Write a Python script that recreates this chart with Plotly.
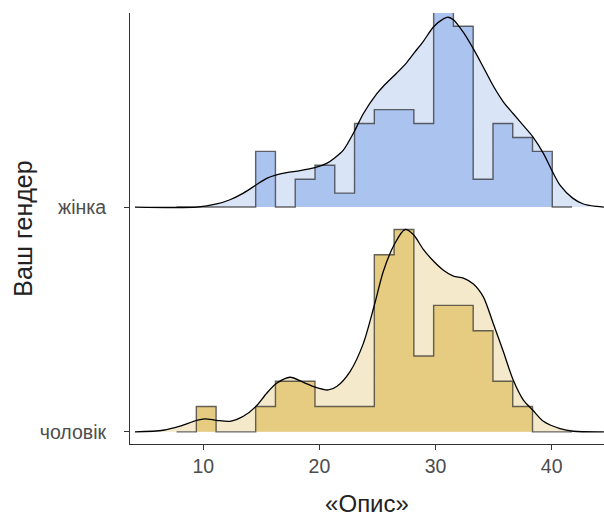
import plotly.graph_objects as go

# ---- data ----
categories = ["чоловік", "жінка"]
cat_pos = [1, 2]

bin_start = 7.70
bin_width = 1.703
counts_men = [0, 1, 0, 0, 1, 2, 2, 1, 1, 1, 7, 8, 3, 5, 5, 4, 2, 1, 0, 0]
counts_women = [0, 0, 0, 0, 4, 0, 2, 3, 1, 6, 7, 7, 6, 14, 13, 2, 6, 5, 4, 0]

dens_x_men = [4.12, 6.56, 7.99, 9.43, 10.15, 11.15, 12.30, 13.45, 14.54, 15.46, 16.32,
              17.47, 18.62, 19.62, 20.77, 21.49, 22.64, 23.78, 24.76, 25.51, 26.45,
              27.37, 28.09, 28.95, 29.84, 30.68, 31.54, 32.40, 33.29, 34.12, 34.98,
              35.84, 36.70, 37.57, 38.37, 39.29, 40.72, 41.87, 44.5]
dens_men = [0, 0.008, 0.028, 0.057, 0.064, 0.057, 0.052, 0.077, 0.126, 0.191, 0.240,
            0.270, 0.245, 0.221, 0.207, 0.224, 0.298, 0.436, 0.632, 0.794, 0.926,
            1.0, 0.975, 0.902, 0.843, 0.799, 0.770, 0.760, 0.730, 0.667, 0.534,
            0.397, 0.255, 0.157, 0.108, 0.052, 0.016, 0.003, 0]

dens_x_women = [4.12, 9.43, 11.15, 12.30, 13.45, 14.54, 15.46, 16.23, 17.18, 18.33, 19.62,
                20.63, 21.34, 22.06, 23.04, 23.78, 24.93, 25.51, 26.66, 27.52, 28.18,
                28.95, 29.84, 30.68, 31.10, 31.54, 32.40, 33.29, 34.12, 34.98, 35.84,
                36.70, 37.57, 38.37, 39.29, 40.06, 40.72, 41.81, 42.73, 43.88, 44.5]
dens_women = [0, 0, 0.015, 0.036, 0.069, 0.109, 0.142, 0.158, 0.170, 0.180, 0.195,
              0.216, 0.244, 0.281, 0.377, 0.461, 0.559, 0.597, 0.662, 0.714, 0.763,
              0.819, 0.891, 0.930, 0.938, 0.926, 0.863, 0.779, 0.691, 0.598, 0.520,
              0.461, 0.402, 0.348, 0.265, 0.176, 0.108, 0.044, 0.015, 0.003, 0]

x_ticks = [10, 20, 30, 40]

SCALE = 0.9
colors = {
    "чоловік": ("#f4eacb", "#e5cc80"),
    "жінка": ("#dae4f7", "#abc3ef"),
}

groups = [
    ("чоловік", 1, counts_men, dens_x_men, dens_men),
    ("жінка", 2, counts_women, dens_x_women, dens_women),
]

max_rel = max(max(c) / sum(c) for _, _, c, _, _ in groups)

fig = go.Figure()
for name, pos, counts, dx, dy in groups:
    light, dark = colors[name]
    n = sum(counts)
    # density fill
    fig.add_trace(go.Scatter(x=dx, y=[pos] * len(dx), mode="lines",
                             line=dict(width=0), hoverinfo="skip", showlegend=False))
    fig.add_trace(go.Scatter(x=dx, y=[pos + v * SCALE for v in dy], mode="lines",
                             line=dict(width=0, shape="spline", smoothing=0.8),
                             fill="tonexty", fillcolor=light,
                             hoverinfo="skip", showlegend=False))
    # histogram step path
    edges = [bin_start + i * bin_width for i in range(len(counts) + 1)]
    hx, hy = [edges[0]], [pos]
    for i, c in enumerate(counts):
        h = pos + (c / n) / max_rel * SCALE
        hx += [edges[i], edges[i + 1]]
        hy += [h, h]
    hx.append(edges[-1])
    hy.append(pos)
    fig.add_trace(go.Scatter(x=hx, y=hy, mode="lines", fill="toself", fillcolor=dark,
                             line=dict(width=0), hoverinfo="skip", showlegend=False))
    fig.add_trace(go.Scatter(x=hx, y=hy, mode="lines",
                             line=dict(color="rgba(40,40,40,0.7)", width=1.4),
                             hoverinfo="skip", showlegend=False))
    # density line
    fig.add_trace(go.Scatter(x=dx, y=[pos + v * SCALE for v in dy], mode="lines",
                             line=dict(color="black", width=1.3, shape="spline", smoothing=0.8),
                             hoverinfo="skip", showlegend=False))

tick_font = dict(family="Liberation Sans, Arial, sans-serif", size=19.5, color="#4d4d4d")
xtitle_font = dict(family="Liberation Sans, Arial, sans-serif", size=24, color="#222222")
ytitle_font = dict(family="Liberation Sans, Arial, sans-serif", size=25, color="#222222")

fig.update_layout(
    width=604, height=517, autosize=False,
    margin=dict(l=130, r=0, t=13, b=70),
    paper_bgcolor="white", plot_bgcolor="white",
    xaxis=dict(range=[3.69, 44.51], tickvals=x_ticks, ticktext=[str(t) for t in x_ticks],
               ticks="outside", ticklen=5, tickwidth=1.1, tickcolor="#333333",
               showline=True, linecolor="#333333", linewidth=1.1,
               showgrid=False, zeroline=False, tickfont=tick_font,
               title=dict(text="«Опис»", font=xtitle_font, standoff=23)),
    yaxis=dict(range=[0.946, 2.863], tickvals=cat_pos, ticktext=categories,
               ticks="outside", ticklen=5, tickwidth=1.1, tickcolor="#333333",
               ticklabelstandoff=14,
               showline=True, linecolor="#333333", linewidth=1.1,
               showgrid=False, zeroline=False, tickfont=tick_font,
               title=dict(text="Ваш гендер", font=ytitle_font, standoff=0)),
)

fig.write_html(
    "out.html",
    config={"displayModeBar": False},
    post_script="document.body.style.margin='0px';document.body.style.overflow='hidden';",
)
